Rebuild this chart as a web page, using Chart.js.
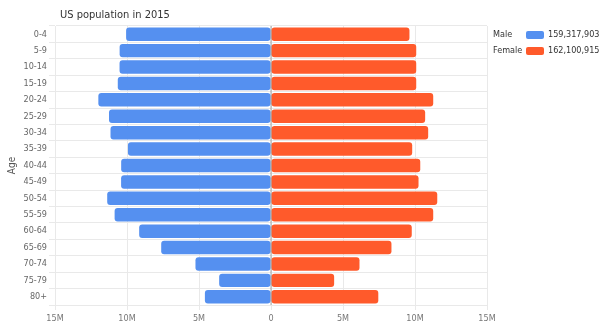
<!DOCTYPE html>
<html>
<head>
<meta charset="utf-8">
<script src="https://cdn.jsdelivr.net/npm/chart.js@4/dist/chart.umd.min.js"></script>
<style>
  html, body { margin: 0; padding: 0; background: #ffffff; }
  #wrap { position: relative; width: 604px; height: 329px; }
</style>
</head>
<body>
<div id="wrap"><canvas id="pyramid" width="604" height="329"></canvas></div>
<script>
// Age groups, top to bottom
const ageGroups = ['0-4', '5-9', '10-14', '15-19', '20-24', '25-29', '30-34', '35-39',
  '40-44', '45-49', '50-54', '55-59', '60-64', '65-69', '70-74', '75-79', '80+'];

// Population by age group (persons)
const malePop = [10062000, 10512000, 10518000, 10640000, 11990000, 11250000, 11145000, 9935000,
  10405000, 10410000, 11375000, 10860000, 9155000, 7625000, 5245000, 3600000, 4590903];
const femalePop = [9615000, 10085000, 10085000, 10085000, 11265000, 10705000, 10915000, 9805000,
  10365000, 10245000, 11545000, 11265000, 9775000, 8365000, 6145000, 4385000, 7450915];

// Axis ticks (millions)
const xTickValues = [-15, -10, -5, 0, 5, 10, 15];

const seriesNames = ['Male', 'Female'];
const seriesColors = ['#5590f0', '#ff5a2b'];
const chartTitle = 'US population in 2015';
const yTitle = 'Age';

const FONT = "'DejaVu Sans Condensed', 'DejaVu Sans', sans-serif";
const totals = [malePop, femalePop].map(a => a.reduce((s, v) => s + v, 0));

// Zero line drawn over the bars
const zeroLine = {
  id: 'zeroLine',
  afterDatasetsDraw(chart) {
    const { ctx, chartArea, scales } = chart;
    const x = Math.round(scales.x.getPixelForValue(0));
    ctx.save();
    ctx.strokeStyle = 'rgba(110,110,110,0.3)';
    ctx.lineWidth = 2;
    ctx.beginPath();
    ctx.moveTo(x, chartArea.top);
    ctx.lineTo(x, chartArea.bottom);
    ctx.stroke();
    ctx.restore();
  }
};

// Title and the value legend on the right
const decorations = {
  id: 'decorations',
  afterDraw(chart) {
    const ctx = chart.ctx;
    ctx.save();
    ctx.fillStyle = '#333333';
    ctx.font = '11px ' + FONT;
    ctx.textBaseline = 'middle';
    ctx.textAlign = 'left';
    ctx.fillText(chartTitle, 60, 15);

    ctx.font = '9px ' + FONT;
    seriesNames.forEach((name, i) => {
      const y = 35 + i * 16;
      ctx.fillStyle = '#333333';
      ctx.fillText(name, 493, y);
      ctx.fillStyle = seriesColors[i];
      ctx.beginPath();
      ctx.roundRect(526, y - 4, 18, 8, 2);
      ctx.fill();
      ctx.fillStyle = '#333333';
      ctx.fillText(totals[i].toLocaleString('en-US'), 548, y);
    });
    ctx.restore();
  }
};

new Chart(document.getElementById('pyramid'), {
  type: 'bar',
  data: {
    labels: ageGroups,
    datasets: [
      { label: seriesNames[0], data: malePop.map(v => -v), backgroundColor: seriesColors[0],
        borderRadius: 3, borderSkipped: false, categoryPercentage: 0.82, barPercentage: 1 },
      { label: seriesNames[1], data: femalePop, backgroundColor: seriesColors[1],
        borderRadius: 3, borderSkipped: false, categoryPercentage: 0.82, barPercentage: 1 }
    ]
  },
  options: {
    indexAxis: 'y',
    responsive: false,
    animation: false,
    layout: { padding: { top: 26, right: 117, bottom: 0, left: 0 } },
    plugins: { legend: { display: false }, tooltip: { enabled: false }, title: { display: false } },
    scales: {
      x: {
        stacked: true,
        min: -15e6, max: 15e6,
        afterBuildTicks(scale) { scale.ticks = xTickValues.map(v => ({ value: v * 1e6 })); },
        afterFit(scale) { scale.height = 24; },
        grid: { color: '#e9e9e9', tickLength: 5, drawTicks: true },
        border: { color: '#e9e9e9' },
        ticks: {
          color: '#777777', font: { family: FONT, size: 9 }, padding: 3,
          callback(v) { return v === 0 ? '0' : Math.abs(v / 1e6) + 'M'; }
        }
      },
      y: {
        stacked: true,
        afterFit(scale) { scale.width = 55; },
        grid: { color: '#e9e9e9', tickLength: 6, offset: true },
        border: { color: '#e9e9e9' },
        ticks: { color: '#666666', font: { family: FONT, size: 9 }, padding: 2 },
        title: { display: true, text: yTitle, color: '#555555', font: { family: FONT, size: 10 },
          padding: { top: 6, bottom: 0 } }
      }
    }
  },
  plugins: [zeroLine, decorations]
});
</script>
</body>
</html>
